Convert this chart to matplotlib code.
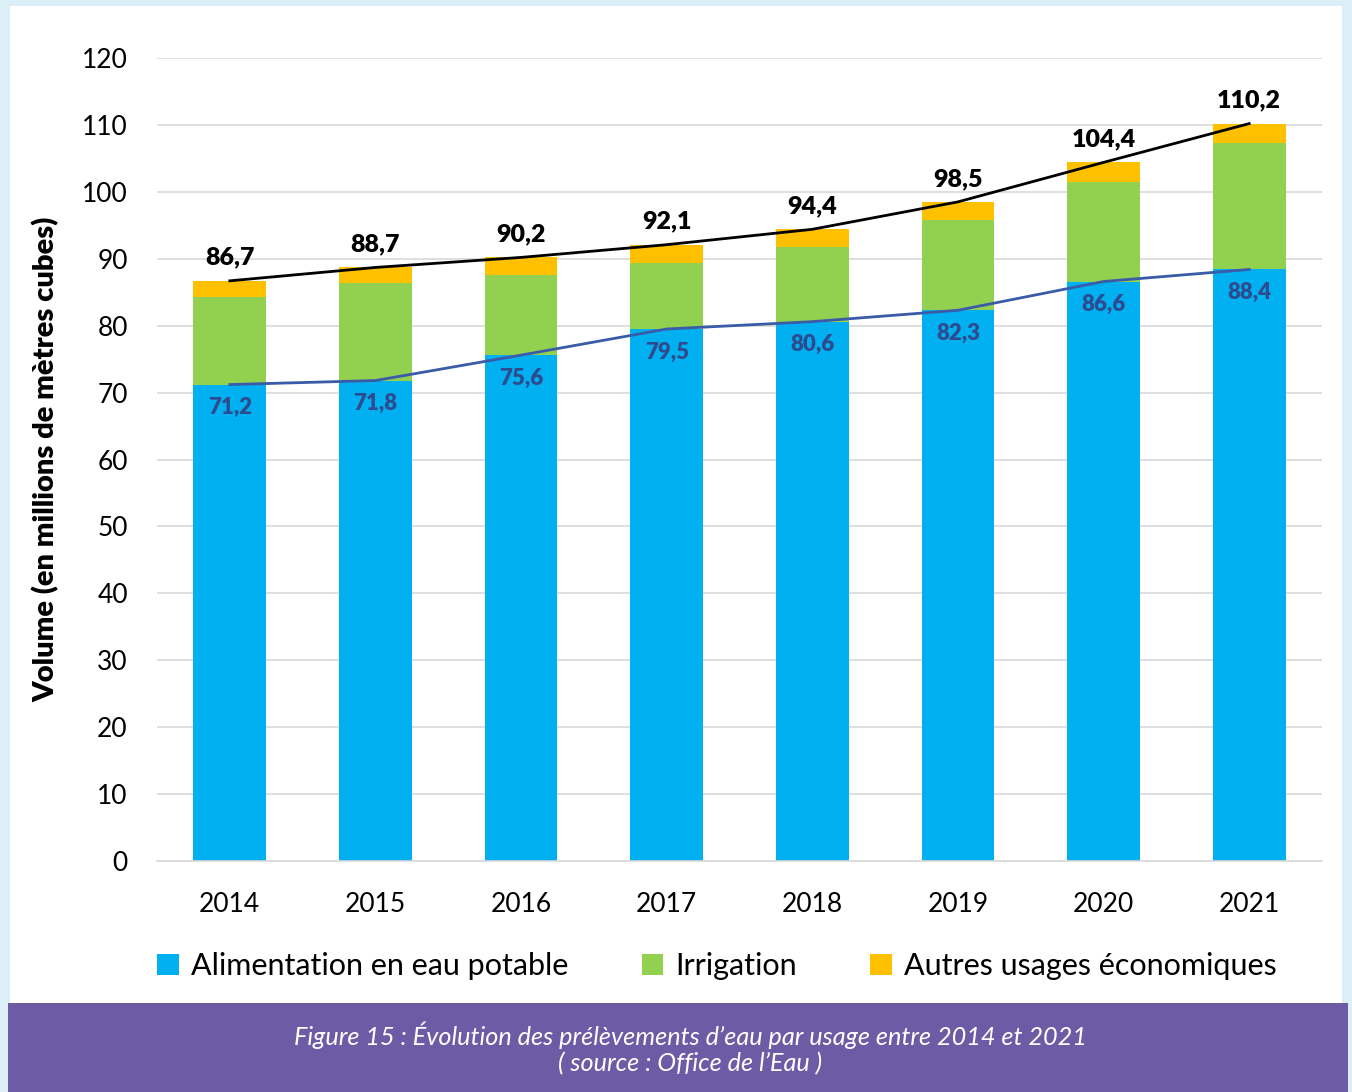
import matplotlib
matplotlib.use("Agg")
import matplotlib.pyplot as plt
from matplotlib.patches import Rectangle
import numpy as np

plt.rcParams['font.family'] = ['Lato', 'DejaVu Sans']

years = ['2014', '2015', '2016', '2017', '2018', '2019', '2020', '2021']
potable = [71.2, 71.8, 75.6, 79.5, 80.6, 82.3, 86.6, 88.4]
irrigation = [13.1, 14.6, 12.0, 9.9, 11.1, 13.5, 14.9, 18.9]
autres = [2.4, 2.3, 2.6, 2.7, 2.7, 2.7, 2.9, 2.9]
totals = [86.7, 88.7, 90.2, 92.1, 94.4, 98.5, 104.4, 110.2]
yticks = [0, 10, 20, 30, 40, 50, 60, 70, 80, 90, 100, 110, 120]

W, H = 1352, 1092
fig = plt.figure(figsize=(W / 100, H / 100), dpi=100)
fig.patch.set_facecolor('#DCEEF7')
fig.patches.append(Rectangle((10 / W, (H - 1003) / H), 1332 / W, 997 / H,
                             transform=fig.transFigure, facecolor='white', edgecolor='none', zorder=-2))
fig.patches.append(Rectangle((8 / W, 0), 1340 / W, 89 / H,
                             transform=fig.transFigure, facecolor='#6E5BA5', edgecolor='none', zorder=-2))

ax = fig.add_axes([157 / W, (H - 861) / H, (1322 - 157) / W, (861 - 58) / H])
ax.set_zorder(1)
ax.set_facecolor('none')
x = np.arange(len(years))
bw = 0.5
b1 = ax.bar(x, potable, bw, color='#00B0F0', label='Alimentation en eau potable', zorder=2)
b2 = ax.bar(x, irrigation, bw, bottom=potable, color='#92D050', label='Irrigation', zorder=2)
bottom3 = [p + i for p, i in zip(potable, irrigation)]
b3 = ax.bar(x, autres, bw, bottom=bottom3, color='#FFC000', label='Autres usages économiques', zorder=2)

ax.plot(x, totals, color='black', lw=2, zorder=3)
ax.plot(x, potable, color='#3A5BA8', lw=2, zorder=3)

for xi, t in zip(x, totals):
    ax.text(xi, t + 1.8, f"{t:.1f}".replace('.', ','), ha='center', va='bottom',
            fontsize=18, fontweight='heavy', color='black', zorder=4)
for xi, p in zip(x, potable):
    ax.text(xi, p - 1.9, f"{p:.1f}".replace('.', ','), ha='center', va='top',
            fontsize=16, fontweight='heavy', color='#2E4B8F', zorder=4)

ax.set_xlim(-0.5, len(years) - 0.5)
ax.set_ylim(0, 120)
ax.set_yticks(yticks)
ax.set_xticks(x)
ax.set_xticklabels(years)
ax.tick_params(axis='both', length=0, labelsize=19, colors='black')
ax.tick_params(axis='y', pad=21)
ax.tick_params(axis='x', pad=22)
ax.grid(axis='y', color='#D9D9D9', lw=1.2, zorder=0)
for s in ['top', 'right', 'left']:
    ax.spines[s].set_visible(False)
ax.spines['bottom'].set_color('#D9D9D9')
ax.spines['bottom'].set_linewidth(1.2)
ax.set_ylabel('Volume (en millions de mètres cubes)', fontsize=21, fontweight='heavy')
ax.yaxis.set_label_coords((60 - 157) / (1322 - 157), (861 - 459) / (861 - 58))

fig.legend(handles=[b1, b2, b3], loc='center', bbox_to_anchor=(717 / W, (H - 966) / H),
           ncol=3, frameon=False, fontsize=22, handlelength=0.7, handleheight=0.7,
           handletextpad=0.4, columnspacing=2.4)

fig.text(690 / W, (H - 1035) / H, "Figure 15 : Évolution des prélèvements d’eau par usage entre 2014 et 2021",
         ha='center', va='center', color='white', fontsize=18.2, style='italic')
fig.text(690 / W, (H - 1064) / H, "( source : Office de l’Eau )",
         ha='center', va='center', color='white', fontsize=18.2, style='italic')

fig.savefig('out.png', dpi=100, facecolor=fig.get_facecolor())
